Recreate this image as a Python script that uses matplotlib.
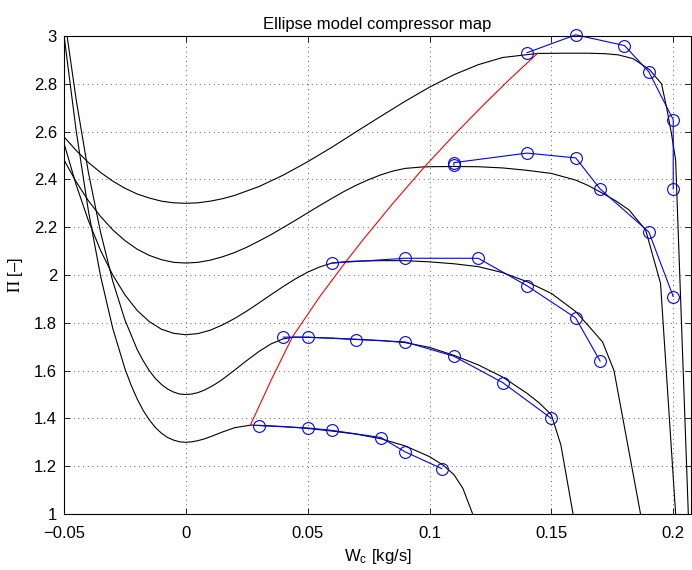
import matplotlib
matplotlib.use('Agg')
import matplotlib.pyplot as plt

plt.rcParams['font.family'] = ['Liberation Sans', 'DejaVu Sans']
plt.rcParams['mathtext.fontset'] = 'stix'

# speed lines of the ellipse model
w_line1 = [-0.05, -0.045, -0.04, -0.035, -0.03, -0.025, -0.0225, -0.02, -0.0175, -0.015, -0.0125,
           -0.01, -0.0075, -0.005, -0.0025, 0.0, 0.0025, 0.005, 0.0075, 0.01, 0.015, 0.02, 0.0267,
           0.03, 0.04, 0.05, 0.06, 0.07, 0.08, 0.09, 0.1, 0.1055, 0.11, 0.1137, 0.1177]
pi_line1 = [3.003, 2.603, 2.269, 1.996, 1.777, 1.608, 1.54, 1.482, 1.433, 1.394, 1.362,
            1.338, 1.32, 1.309, 1.302, 1.3, 1.302, 1.307, 1.314, 1.323, 1.343, 1.361, 1.372,
            1.371, 1.366, 1.358, 1.347, 1.334, 1.315, 1.285, 1.24, 1.205, 1.165, 1.107, 1.0]

w_line2 = [-0.05, -0.045, -0.04, -0.035, -0.03, -0.025, -0.02, -0.0175, -0.015, -0.0125, -0.01,
           -0.0075, -0.005, -0.0025, 0.0, 0.0025, 0.005, 0.0075, 0.01, 0.0125, 0.015, 0.02, 0.025,
           0.03, 0.035, 0.04, 0.0445, 0.05, 0.06, 0.07, 0.08, 0.09, 0.1, 0.11, 0.12, 0.13, 0.14,
           0.145, 0.15, 0.1539, 0.1589]
pi_line2 = [3.09, 2.733, 2.43, 2.179, 1.974, 1.812, 1.689, 1.641, 1.6, 1.567, 1.542,
            1.523, 1.51, 1.502, 1.5, 1.502, 1.508, 1.518, 1.531, 1.546, 1.563, 1.602, 1.642,
            1.68, 1.712, 1.733, 1.74, 1.739, 1.736, 1.731, 1.726, 1.717, 1.697, 1.664, 1.624, 1.573, 1.505,
            1.465, 1.415, 1.289, 1.0]

w_line3 = [-0.05, -0.045, -0.04, -0.035, -0.03, -0.025, -0.02, -0.015, -0.01, -0.005, 0.0,
           0.005, 0.01, 0.015, 0.02, 0.025, 0.03, 0.035, 0.04, 0.045, 0.05, 0.055, 0.06, 0.0657,
           0.07, 0.08, 0.09, 0.1, 0.11, 0.12, 0.13, 0.14, 0.15, 0.16, 0.165, 0.171, 0.1757, 0.1866]
pi_line3 = [2.551, 2.377, 2.228, 2.103, 2.0, 1.917, 1.852, 1.805, 1.773, 1.756, 1.75,
            1.755, 1.769, 1.791, 1.818, 1.849, 1.883, 1.918, 1.952, 1.984, 2.012, 2.034, 2.05, 2.056,
            2.058, 2.06, 2.06, 2.055, 2.047, 2.035, 2.01, 1.972, 1.923, 1.847, 1.79, 1.72, 1.6, 1.0]

w_line4 = [-0.05, -0.045, -0.04, -0.035, -0.03, -0.025, -0.02, -0.015, -0.01, -0.005, 0.0,
           0.005, 0.01, 0.015, 0.02, 0.025, 0.03, 0.035, 0.04, 0.045, 0.05, 0.055, 0.06, 0.065,
           0.07, 0.075, 0.08, 0.085, 0.09, 0.097, 0.1, 0.11, 0.12, 0.13, 0.14, 0.15, 0.16, 0.165,
           0.171, 0.1765, 0.1819, 0.1887, 0.1948, 0.201]
pi_line4 = [2.481, 2.39, 2.311, 2.245, 2.189, 2.144, 2.108, 2.082, 2.064, 2.053, 2.05,
            2.053, 2.062, 2.076, 2.094, 2.116, 2.142, 2.169, 2.199, 2.229, 2.26, 2.291, 2.321, 2.35,
            2.376, 2.399, 2.419, 2.435, 2.446, 2.452, 2.453, 2.454, 2.453, 2.448, 2.438, 2.425, 2.397, 2.375,
            2.342, 2.31, 2.272, 2.188, 1.965, 1.0]

w_line5 = [-0.05, -0.045, -0.04, -0.035, -0.03, -0.025, -0.02, -0.015, -0.01, -0.005, 0.0,
           0.005, 0.01, 0.015, 0.02, 0.03, 0.04, 0.05, 0.06, 0.07, 0.08, 0.09, 0.1, 0.11, 0.12,
           0.13, 0.1443, 0.155, 0.165, 0.172, 0.1775, 0.1836, 0.1904, 0.1952, 0.1973, 0.1993,
           0.201, 0.2062]
pi_line5 = [2.578, 2.521, 2.471, 2.429, 2.393, 2.363, 2.339, 2.322, 2.309, 2.302, 2.3,
            2.302, 2.309, 2.319, 2.333, 2.37, 2.418, 2.474, 2.535, 2.6, 2.664, 2.727, 2.786, 2.838, 2.88,
            2.91, 2.927, 2.928, 2.928, 2.926, 2.921, 2.905, 2.858, 2.8, 2.7, 2.59,
            2.48, 1.0]

# surge line
surge_w = [0.0265, 0.035, 0.0438, 0.055, 0.0657, 0.0726, 0.085, 0.098, 0.11, 0.122, 0.133, 0.1443]
surge_pi = [1.372, 1.56, 1.742, 1.91, 2.056, 2.146, 2.30, 2.453, 2.585, 2.71, 2.82, 2.927]

# measured points
meas_w1 = [0.03, 0.05, 0.06, 0.08, 0.09, 0.105]
meas_pi1 = [1.37, 1.36, 1.35, 1.32, 1.26, 1.19]
meas_w2 = [0.04, 0.05, 0.07, 0.09, 0.11, 0.13, 0.15]
meas_pi2 = [1.74, 1.74, 1.73, 1.72, 1.66, 1.55, 1.40]
meas_w3 = [0.06, 0.09, 0.12, 0.14, 0.16, 0.17]
meas_pi3 = [2.05, 2.07, 2.07, 1.955, 1.82, 1.64]
meas_w4 = [0.11, 0.11, 0.14, 0.16, 0.17, 0.19, 0.20]
meas_pi4 = [2.46, 2.47, 2.51, 2.49, 2.36, 2.18, 1.91]
meas_w5 = [0.14, 0.16, 0.18, 0.19, 0.20, 0.20]
meas_pi5 = [2.93, 3.005, 2.96, 2.85, 2.65, 2.36]

fig = plt.figure(figsize=(6.92, 5.70), dpi=100)
ax = fig.add_axes([64 / 692, 56 / 570, 627 / 692, 478 / 570])

for w, p in [(w_line1, pi_line1), (w_line2, pi_line2), (w_line3, pi_line3),
             (w_line4, pi_line4), (w_line5, pi_line5)]:
    ax.plot(w, p, color='k', linewidth=0.8)

ax.plot(surge_w, surge_pi, color='r', linewidth=0.8)

for w, p in [(meas_w1, meas_pi1), (meas_w2, meas_pi2), (meas_w3, meas_pi3),
             (meas_w4, meas_pi4), (meas_w5, meas_pi5)]:
    ax.plot(w, p, color='b', linewidth=0.8, marker='o', markersize=8.5,
            markerfacecolor='none', markeredgewidth=0.8, clip_on=False)

ax.set_xlim(-0.05, 0.2073)
ax.set_ylim(1, 3)
xt = [-0.05, 0, 0.05, 0.1, 0.15, 0.2]
ax.set_xticks(xt)
ax.set_xticklabels(['\u22120.05', '0', '0.05', '0.1', '0.15', '0.2'])
yt = [1, 1.2, 1.4, 1.6, 1.8, 2, 2.2, 2.4, 2.6, 2.8, 3]
ax.set_yticks(yt)
ax.set_yticklabels(['1', '1.2', '1.4', '1.6', '1.8', '2', '2.2', '2.4', '2.6', '2.8', '3'])

ax.tick_params(direction='in', top=True, right=True, length=4, width=0.6,
               labelsize=12, pad=5)
ax.tick_params(axis='x', pad=9)
ax.grid(True, linestyle=(0, (0.8, 4)), color='0.25', linewidth=0.7)
for s in ax.spines.values():
    s.set_linewidth(0.8)

ax.set_title('Ellipse model compressor map', fontsize=12, pad=5)
ax.set_xlabel('W$_\\mathregular{c}$ [kg/s]', fontsize=12, labelpad=4)
ax.set_ylabel('$\\Pi$ [\u2013]', fontsize=12, labelpad=6)

fig.savefig('out.png', dpi=100)
